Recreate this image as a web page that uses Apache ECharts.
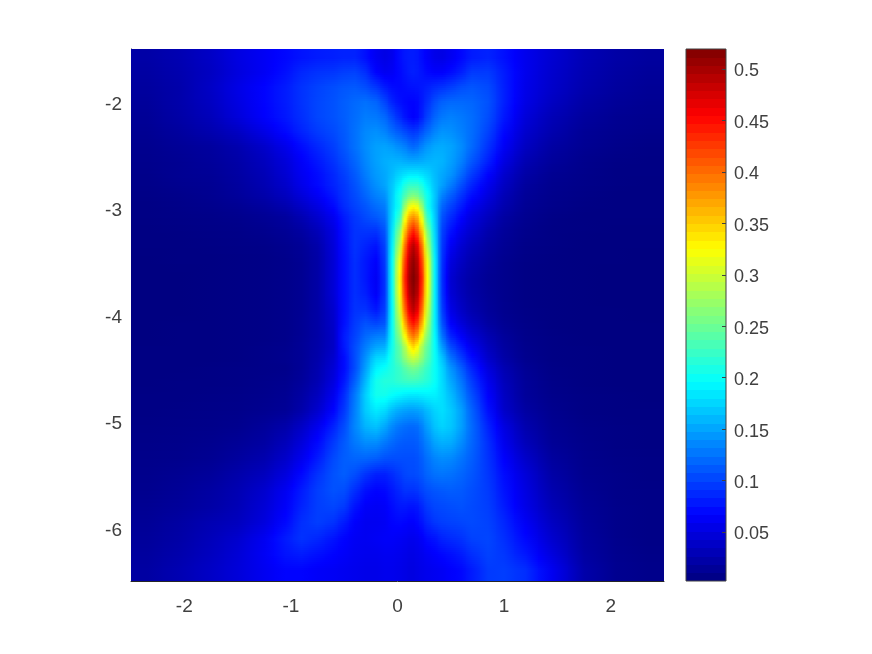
<!DOCTYPE html>
<html>
<head>
<meta charset="utf-8">
<style>html,body{margin:0;padding:0;background:#fff}#c{width:872px;height:654px}</style>
<script src="https://cdn.jsdelivr.net/npm/echarts@6/dist/echarts.min.js"></script>
</head>
<body>
<div id="c"></div>
<script>
const xTicks = [-2, -1, 0, 1, 2];
const yTicks = [-6, -5, -4, -3, -2];
const colorbarTicks = [0.05, 0.1, 0.15, 0.2, 0.25, 0.3, 0.35, 0.4, 0.45, 0.5];
const colorMin = 0.0024, colorMax = 0.5194;
const xs = [-2.35,-2.05,-1.75,-1.5,-1.25,-1.05,-.9,-.75,-.6,-.5,-.4,-.3,-.2,-.12,-.05,.02,.07,.11,.15,.19,.23,.28,.35,.42,.5,.6,.7,.85,1,1.2,1.45,1.75,2.05,2.35];
const ys = [-1.58,-1.72,-1.86,-2,-2.14,-2.28,-2.42,-2.56,-2.68,-2.78,-2.88,-2.98,-3.08,-3.2,-3.35,-3.5,-3.65,-3.8,-3.95,-4.08,-4.2,-4.3,-4.4,-4.5,-4.62,-4.75,-4.9,-5.05,-5.2,-5.35,-5.5,-5.65,-5.8,-5.95,-6.1,-6.25,-6.4];
// values in thousandths, one row per entry of ys
const zMilli = [
[22,28,38,52,62,70,76,80,82,84,84,74,60,54,58,72,78,80,80,78,72,64,56,54,60,70,80,84,74,58,44,30,22,18],
[20,26,36,50,62,74,86,92,94,98,100,90,68,60,62,70,76,80,82,80,76,70,66,66,72,82,96,96,80,58,42,28,20,16],
[18,24,38,54,68,80,92,100,106,110,112,106,94,80,72,70,72,74,75,76,78,82,88,92,98,106,110,104,82,56,40,26,18,14],
[16,24,36,52,68,80,92,102,108,114,120,124,118,102,84,74,70,68,68,70,78,90,106,116,120,120,118,108,82,54,36,22,15,12],
[14,22,32,48,66,78,90,102,108,114,122,130,128,120,104,88,76,70,66,70,82,100,118,128,132,128,122,106,78,48,30,18,12,10],
[12,18,26,36,54,70,84,96,104,112,124,136,140,134,122,112,104,98,95,98,108,120,134,142,140,132,122,100,70,42,26,14,10,8],
[10,14,18,26,40,56,72,86,98,110,124,138,148,150,146,138,132,124,120,124,134,144,152,154,150,138,120,92,62,36,20,12,8,6],
[9,12,16,22,34,48,64,78,92,104,118,135,148,155,158,158,155,153,153,153,155,158,160,158,148,132,110,82,52,28,16,9,6,5],
[8,12,14,20,30,44,60,72,86,98,112,130,145,152,162,175,182,186,186,186,182,175,162,152,142,120,96,68,42,22,12,8,5,5],
[7,10,12,18,28,40,56,70,84,94,108,124,140,150,168,190,212,222,222,222,210,188,165,148,130,106,84,58,36,18,10,7,5,4],
[6,8,11,16,24,34,48,62,78,92,104,118,132,140,170,205,235,255,262,255,233,203,168,132,114,92,72,50,30,15,9,6,4,4],
[5,7,9,12,18,26,38,52,70,88,100,110,122,130,172,205,275,315,325,315,272,205,165,118,100,80,60,42,26,13,8,5,4,4],
[5,6,7,9,13,18,28,42,60,80,94,104,112,122,175,225,315,365,380,365,312,225,170,108,88,68,50,34,20,11,6,4,4,4],
[4,5,6,7,10,14,20,32,52,76,92,94,94,110,182,260,355,410,435,410,352,258,175,100,76,56,42,26,16,9,5,4,3,3],
[4,4,5,6,7,10,14,24,48,74,92,84,76,100,190,290,400,465,490,465,398,288,182,95,62,44,32,20,13,7,5,3,3,3],
[3,4,4,5,6,8,12,22,46,72,90,78,66,95,198,320,425,490,510,490,422,318,190,92,50,36,25,16,10,6,4,3,3,2],
[3,3,4,5,6,8,12,22,46,72,90,78,62,92,200,330,440,500,519,500,437,325,190,90,44,30,21,13,9,5,4,3,2,2],
[3,3,4,5,6,8,12,22,46,72,90,82,64,92,200,322,428,490,510,490,426,318,190,92,46,32,22,14,9,5,4,3,2,2],
[3,3,4,5,6,8,12,22,42,72,92,92,78,98,196,305,405,465,488,465,402,300,190,98,54,38,26,16,10,6,4,3,3,2],
[3,4,4,5,6,8,13,22,40,74,96,108,102,110,200,285,370,425,445,425,368,282,190,108,66,48,34,20,12,7,4,3,3,3],
[3,4,4,5,6,8,13,22,38,80,100,120,130,134,200,265,325,375,395,375,322,262,195,125,84,64,46,28,16,8,5,3,3,3],
[4,4,4,5,7,9,14,23,38,78,105,130,150,156,205,245,285,325,345,325,282,245,198,145,104,80,58,34,19,9,5,4,3,3],
[4,4,4,5,7,10,14,24,42,72,105,140,175,180,210,240,270,290,300,290,268,238,200,165,124,96,70,40,22,10,5,4,3,3],
[4,4,5,6,7,8,14,26,46,72,105,148,190,200,212,225,240,250,255,250,238,222,200,175,142,114,84,50,28,13,6,4,3,3],
[4,5,5,6,8,10,16,28,50,78,115,160,205,214,215,222,226,228,228,226,222,215,200,178,152,126,96,58,32,15,7,4,3,3],
[5,5,6,7,9,12,20,34,58,88,128,172,205,205,198,192,188,186,186,186,188,190,190,180,162,136,106,66,36,16,8,5,4,3],
[5,6,7,8,11,14,24,42,68,95,132,170,185,178,162,152,148,146,146,148,152,162,174,180,170,148,116,74,40,20,10,5,4,4],
[6,7,8,10,16,24,38,58,84,105,135,158,165,152,136,126,122,120,120,122,132,148,166,174,168,148,120,84,52,26,12,7,5,4],
[7,8,10,14,20,32,48,70,96,112,128,138,138,128,120,114,112,112,112,114,122,134,150,156,154,138,118,90,58,32,14,8,5,4],
[8,9,12,18,26,40,58,80,104,114,118,118,114,108,106,106,106,106,106,108,114,124,134,138,136,126,114,92,66,40,18,9,6,5],
[9,12,16,24,34,50,70,92,108,114,106,92,82,82,88,96,102,104,104,106,110,118,124,126,124,118,110,94,72,48,22,10,7,5],
[10,14,20,28,42,60,80,98,108,106,90,74,68,70,78,86,92,92,92,94,100,106,110,112,114,112,106,96,76,52,26,12,7,6],
[12,16,22,30,46,64,84,98,102,96,76,64,62,64,72,78,78,76,76,78,86,96,102,104,106,108,104,98,80,55,30,14,8,6],
[14,20,28,34,50,70,90,98,92,80,66,60,60,62,68,70,68,66,66,70,76,86,94,98,100,102,104,100,86,62,36,16,8,6],
[16,22,32,42,60,80,92,86,76,68,62,60,62,64,64,62,60,58,58,60,64,72,76,84,88,92,100,102,90,70,42,18,9,6],
[18,25,35,46,62,76,80,74,68,64,60,58,58,60,60,58,56,54,54,56,58,62,66,70,74,80,90,100,94,78,50,20,10,7],
[20,28,38,48,60,68,68,64,62,60,58,56,56,58,58,56,54,52,52,54,56,58,60,62,66,70,80,96,98,90,60,24,11,8]
];

function jet(v) {
  const t = Math.max(0, Math.min(1, (v - colorMin) / (colorMax - colorMin)));
  const ch = (c) => Math.round(255 * Math.max(0, Math.min(1, 1.5 - Math.abs(4 * t - c))));
  return 'rgb(' + ch(3) + ',' + ch(2) + ',' + ch(1) + ')';
}
const z = (j, i) => zMilli[Math.max(0, Math.min(ys.length - 1, j))][Math.max(0, Math.min(xs.length - 1, i))] / 1000;

const cells = [];
ys.forEach((y, j) => xs.forEach((x, i) => cells.push([x, y, z(j, i), i, j])));

const bands = [];
for (let k = 0; k < 64; k++) bands.push([colorMin + (k + 0.5) * (colorMax - colorMin) / 64]);

// Shades one cell between its neighbours' readings (like MATLAB "shading interp")
function renderCell(params, api) {
  const i = api.value(3), j = api.value(4);
  const xl = i === 0 ? -2.5 : (xs[i - 1] + xs[i]) / 2;
  const xr = i === xs.length - 1 ? 2.5 : (xs[i] + xs[i + 1]) / 2;
  const yt = j === 0 ? -1.5 : (ys[j - 1] + ys[j]) / 2;
  const yb = j === ys.length - 1 ? -6.5 : (ys[j] + ys[j + 1]) / 2;
  const a = api.coord([xl, yt]), b = api.coord([xr, yb]), c = api.coord([xs[i], ys[j]]);
  const px = Math.floor(a[0]), right = Math.ceil(b[0]), w = right - px;
  const mid = Math.max(0.001, Math.min(0.999, (c[0] - px) / w));
  const top = Math.round(a[1]), bottom = Math.round(b[1]);
  const children = [];
  const at = (col, p) => {
    const t = Math.abs(p - c[1]);
    const n = p < c[1] ? j - 1 : j + 1;
    const other = api.coord([xs[i], ys[Math.max(0, Math.min(ys.length - 1, n))]])[1];
    const f = other === c[1] ? 0 : t / Math.abs(other - c[1]);
    return z(j, col) * (1 - f) + z(n, col) * f;
  };
  for (let p = top; p < bottom; p += 2) {
    const h = Math.min(2, bottom - p), pm = p + h / 2;
    const v = at(i, pm);
    children.push({
      type: 'rect',
      shape: { x: px, y: p, width: w, height: h },
      style: { fill: new echarts.graphic.LinearGradient(0, 0, 1, 0, [
        { offset: 0, color: jet((at(i - 1, pm) + v) / 2) },
        { offset: mid, color: jet(v) },
        { offset: 1, color: jet((at(i + 1, pm) + v) / 2) }
      ]) }
    });
  }
  return { type: 'group', children };
}
function renderBand(params, api) {
  const step = (colorMax - colorMin) / 64;
  const v = api.value(0);
  const a = api.coord([0, v + step / 2]), b = api.coord([1, v - step / 2]);
  const py = Math.floor(a[1]);
  return { type: 'rect', shape: { x: a[0], y: py, width: b[0] - a[0], height: Math.ceil(b[1]) - py }, style: { fill: jet(v) } };
}

const font = 'Liberation Sans';
const labelColor = '#404040';
const chart = echarts.init(document.getElementById('c'), null, { renderer: 'canvas' });
chart.setOption({
  animation: false,
  backgroundColor: '#fff',
  grid: [
    { left: 131, top: 49, width: 533, height: 532, show: false },
    { left: 686, top: 49, width: 40, height: 532, show: true, borderColor: '#404040', borderWidth: 1, backgroundColor: 'transparent', z: 5 }
  ],
  xAxis: [
    { type: 'value', gridIndex: 0, min: -2.5, max: 2.5, splitLine: { show: false },
      axisLine: { show: true, onZero: false, lineStyle: { color: '#262626', width: 1 } },
      axisTick: { show: true, inside: true, length: 5, customValues: xTicks, lineStyle: { color: '#262626' } },
      axisLabel: { customValues: xTicks, color: labelColor, fontFamily: font, fontSize: 19, margin: 16 } },
    { type: 'value', gridIndex: 1, min: 0, max: 1, show: false }
  ],
  yAxis: [
    { type: 'value', gridIndex: 0, min: -6.5, max: -1.5, splitLine: { show: false },
      axisLine: { show: true, onZero: false, lineStyle: { color: '#262626', width: 1 } },
      axisTick: { show: true, inside: true, length: 5, customValues: yTicks, lineStyle: { color: '#262626' } },
      axisLabel: { customValues: yTicks, color: labelColor, fontFamily: font, fontSize: 19, margin: 9, verticalAlign: 'top', lineHeight: 5 } },
    { type: 'value', gridIndex: 1, position: 'right', min: colorMin, max: colorMax, splitLine: { show: false }, z: 4,
      axisLine: { show: false, onZero: false },
      axisTick: { show: true, inside: true, length: 4, customValues: colorbarTicks, lineStyle: { color: '#404040' } },
      axisLabel: { customValues: colorbarTicks, color: labelColor, fontFamily: font, fontSize: 18, margin: 8, verticalAlign: 'top', lineHeight: 5, showMinLabel: true, showMaxLabel: true, formatter: (v) => String(+v.toFixed(2)) } }
  ],
  series: [
    { type: 'custom', xAxisIndex: 0, yAxisIndex: 0, data: cells, renderItem: renderCell, progressive: 0, silent: true, encode: { x: 0, y: 1 }, clip: true },
    { type: 'custom', xAxisIndex: 1, yAxisIndex: 1, data: bands, renderItem: renderBand, progressive: 0, silent: true, encode: { y: 0 }, clip: true }
  ]
});
</script>
</body>
</html>
